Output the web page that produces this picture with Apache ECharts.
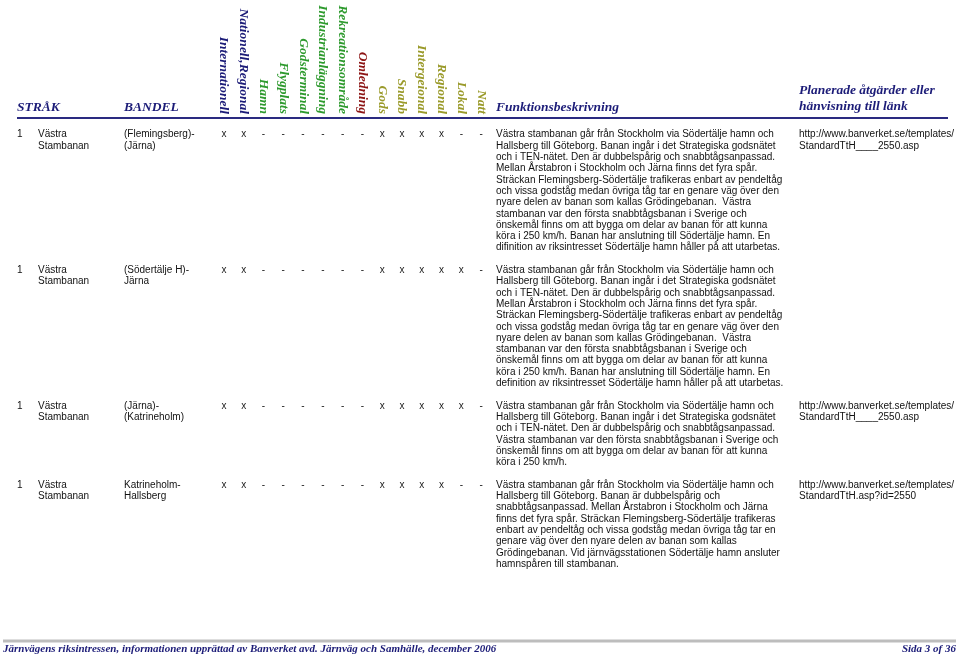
<!DOCTYPE html>
<html>
<head>
<meta charset="utf-8">
<script src="https://cdn.jsdelivr.net/npm/echarts@6/dist/echarts.min.js"></script>
<style>html,body{margin:0;padding:0;background:#fff}#c{width:960px;height:659px}</style>
</head>
<body>
<div id="c"></div>
<script>
// ---- data ----
const columns = ['Internationell','Nationell,Regional','Hamn','Flygplats','Godsterminal','Industrianläggning','Rekreationsområde','Omledning','Gods','Snabb','Intergeional','Regional','Lokal','Natt'];
const columnGroups = ['navy','navy','green','green','green','green','green','red','olive','olive','olive','olive','olive','olive'];
const rowNumbers = ['1','1','1','1'];
const strak = ['Västra\nStambanan','Västra\nStambanan','Västra\nStambanan','Västra\nStambanan'];
const bandel = ['(Flemingsberg)-\n(Järna)','(Södertälje H)-\nJärna','(Järna)-\n(Katrineholm)','Katrineholm-\nHallsberg'];
const marks = [
  ['x','x','-','-','-','-','-','-','x','x','x','x','-','-'],
  ['x','x','-','-','-','-','-','-','x','x','x','x','x','-'],
  ['x','x','-','-','-','-','-','-','x','x','x','x','x','-'],
  ['x','x','-','-','-','-','-','-','x','x','x','x','-','-']
];
const descriptions = [
  ['Västra stambanan går från Stockholm via Södertälje hamn och',
   'Hallsberg till Göteborg. Banan ingår i det Strategiska godsnätet',
   'och i TEN-nätet. Den är dubbelspårig och snabbtågsanpassad.',
   'Mellan Årstabron i Stockholm och Järna finns det fyra spår.',
   'Sträckan Flemingsberg-Södertälje trafikeras enbart av pendeltåg',
   'och vissa godståg medan övriga tåg tar en genare väg över den',
   'nyare delen av banan som kallas Grödingebanan.  Västra',
   'stambanan var den första snabbtågsbanan i Sverige och',
   'önskemål finns om att bygga om delar av banan för att kunna',
   'köra i 250 km/h. Banan har anslutning till Södertälje hamn. En',
   'difinition av riksintresset Södertälje hamn håller på att utarbetas.'],
  ['Västra stambanan går från Stockholm via Södertälje hamn och',
   'Hallsberg till Göteborg. Banan ingår i det Strategiska godsnätet',
   'och i TEN-nätet. Den är dubbelspårig och snabbtågsanpassad.',
   'Mellan Årstabron i Stockholm och Järna finns det fyra spår.',
   'Sträckan Flemingsberg-Södertälje trafikeras enbart av pendeltåg',
   'och vissa godståg medan övriga tåg tar en genare väg över den',
   'nyare delen av banan som kallas Grödingebanan.  Västra',
   'stambanan var den första snabbtågsbanan i Sverige och',
   'önskemål finns om att bygga om delar av banan för att kunna',
   'köra i 250 km/h. Banan har anslutning till Södertälje hamn. En',
   'definition av riksintresset Södertälje hamn håller på att utarbetas.'],
  ['Västra stambanan går från Stockholm via Södertälje hamn och',
   'Hallsberg till Göteborg. Banan ingår i det Strategiska godsnätet',
   'och i TEN-nätet. Den är dubbelspårig och snabbtågsanpassad.',
   'Västra stambanan var den första snabbtågsbanan i Sverige och',
   'önskemål finns om att bygga om delar av banan för att kunna',
   'köra i 250 km/h.'],
  ['Västra stambanan går från Stockholm via Södertälje hamn och',
   'Hallsberg till Göteborg. Banan är dubbelspårig och',
   'snabbtågsanpassad. Mellan Årstabron i Stockholm och Järna',
   'finns det fyra spår. Sträckan Flemingsberg-Södertälje trafikeras',
   'enbart av pendeltåg och vissa godståg medan övriga tåg tar en',
   'genare väg över den nyare delen av banan som kallas',
   'Grödingebanan. Vid järnvägsstationen Södertälje hamn ansluter',
   'hamnspåren till stambanan.']
];
const links = [
  'http://www.banverket.se/templates/\nStandardTtH____2550.asp',
  '',
  'http://www.banverket.se/templates/\nStandardTtH____2550.asp',
  'http://www.banverket.se/templates/\nStandardTtH.asp?id=2550'
];
const headerLeft = ['STRÅK','BANDEL'];
const headerDesc = 'Funktionsbeskrivning';
const headerLink = 'Planerade åtgärder eller\nhänvisning till länk';
const footerText = 'Järnvägens riksintressen, informationen upprättad av Banverket avd. Järnväg och Samhälle, december 2006';
const footerPage = 'Sida 3 of 36';

// ---- layout / styles ----
const groupColors = {navy:'#1c1c78', green:'#2e9a2e', red:'#8c1414', olive:'#9a9a2a'};
const LH = 11.3;
const GRID_TOP = 129;
const LINES = 45;
const SANS = '"Liberation Sans", Arial, sans-serif';
const SERIF = '"Liberation Serif", "Times New Roman", serif';
const NAVY = '#1c1c78';

// row start line indices derived from description lengths
const rowData = [];
let acc = 0;
for (let i = 0; i < descriptions.length; i++) {
  rowData.push([i, acc]);
  acc += descriptions[i].length + 1;
}

const chart = echarts.init(document.getElementById('c'));
chart.setOption({
  animation: false,
  grid: {left: 214, right: 469, top: GRID_TOP, bottom: 659 - GRID_TOP - LINES * LH},
  xAxis: {
    type: 'category', position: 'top', offset: GRID_TOP - 116,
    data: columns.map((c, i) => ({value: c, textStyle: {color: groupColors[columnGroups[i]]}})),
    axisLine: {show: false}, axisTick: {show: false}, splitLine: {show: false},
    axisLabel: {interval: 0, rotate: -90, margin: 2, fontFamily: SERIF, fontStyle: 'italic',
      fontWeight: 'bold', fontSize: 13.5}
  },
  yAxis: {type: 'value', inverse: true, min: 0, max: LINES, show: false},
  series: [{
    type: 'custom',
    coordinateSystem: 'cartesian2d',
    data: rowData,
    encode: {x: -1, y: 1},
    clip: false,
    renderItem: function (params, api) {
      const i = api.value(0);
      const ly = api.value(1);
      const top = api.coord([0, ly])[1];
      const children = [];
      const txt = (x, y, s, extra) => ({
        type: 'text', x: x, y: y,
        style: Object.assign({text: s, fill: '#111', font: '10px ' + SANS,
          lineHeight: LH, verticalAlign: 'top', align: 'left'}, extra || {})
      });
      children.push(txt(17, top, rowNumbers[i]));
      children.push(txt(38, top, strak[i]));
      children.push(txt(124, top, bandel[i]));
      for (let c = 0; c < columns.length; c++) {
        const p = api.coord([c, ly + 0.5]);
        children.push({type: 'text', x: p[0], y: p[1],
          style: {text: marks[i][c], fill: '#222', font: '10px ' + SANS, align: 'center', verticalAlign: 'middle'}});
      }
      children.push(txt(496, top, descriptions[i].join('\n')));
      if (links[i]) children.push(txt(799, top, links[i]));
      return {type: 'group', children: children};
    }
  }],
  graphic: [
    {type: 'text', left: 17, top: 101, style: {text: headerLeft[0], fill: NAVY, font: 'italic bold 13.5px ' + SERIF}},
    {type: 'text', left: 124, top: 101, style: {text: headerLeft[1], fill: NAVY, font: 'italic bold 13.5px ' + SERIF}},
    {type: 'text', left: 496, top: 100.5, style: {text: headerDesc, fill: NAVY, font: 'italic bold 13.5px ' + SERIF}},
    {type: 'text', left: 799, top: 83, style: {text: headerLink, fill: NAVY, font: 'italic bold 13.5px ' + SERIF, lineHeight: 16}},
    {type: 'line', shape: {x1: 17, y1: 118, x2: 948, y2: 118}, style: {stroke: '#2a2a80', lineWidth: 2}},
    {type: 'line', shape: {x1: 3, y1: 641, x2: 956, y2: 641}, style: {stroke: '#bdbdbd', lineWidth: 3}},
    {type: 'text', left: 3, top: 643.5, style: {text: footerText, fill: NAVY, font: 'italic bold 11px ' + SERIF}},
    {type: 'text', right: 4, top: 643.5, style: {text: footerPage, fill: NAVY, font: 'italic bold 11px ' + SERIF}}
  ]
});
</script>
</body>
</html>
